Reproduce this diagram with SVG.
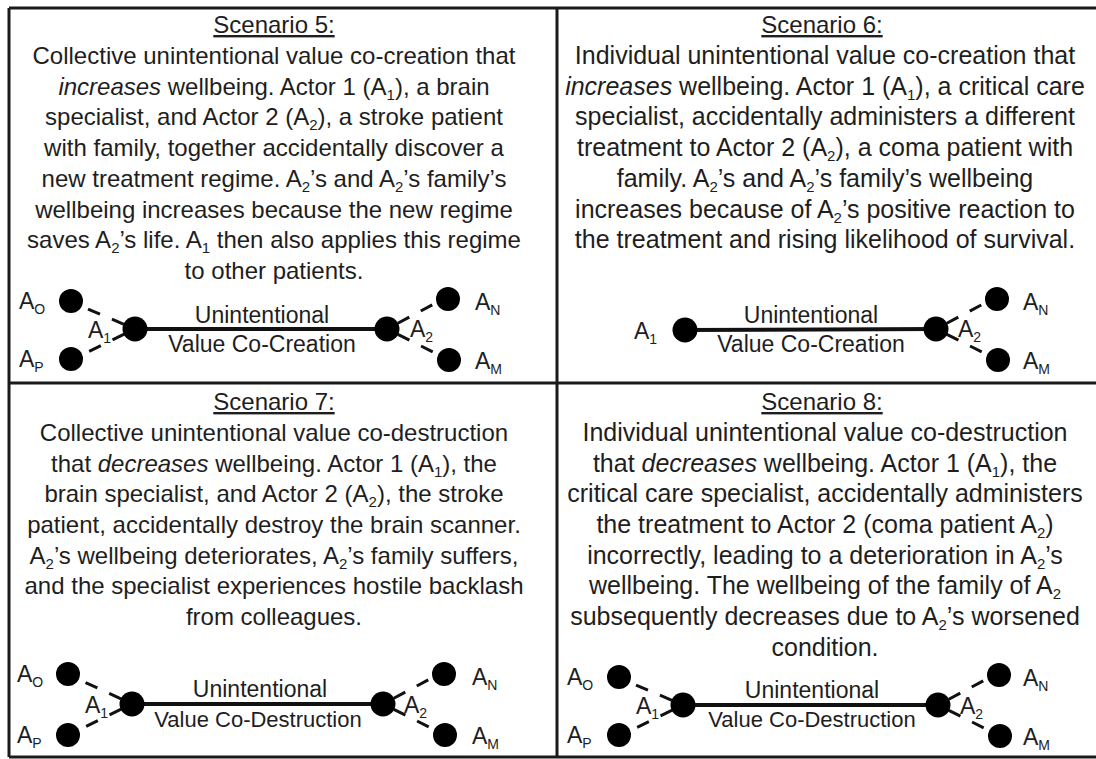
<svg xmlns="http://www.w3.org/2000/svg" width="1096" height="759" viewBox="0 0 1096 759">
<style>
.bg{fill:#ffffff}
.frame{stroke:#1a1a1a;stroke-width:3;fill:none}
.t{font-family:"Liberation Sans",Arial,sans-serif;font-size:24px;fill:#1e1e1e;text-anchor:middle}
.r{font-size:25px}
.ttl{text-decoration:underline}
.i{font-style:italic}
.sub{font-size:15px;baseline-shift:-5px}
.lbl{font-family:"Liberation Sans",Arial,sans-serif;font-size:23px;fill:#1e1e1e}
.ls{font-size:14px;baseline-shift:-5px}
.dot{fill:#000}
.main{stroke:#111;stroke-width:4}
.dash{stroke:#111;stroke-width:3;stroke-dasharray:13 13}
.cap{font-family:"Liberation Sans",Arial,sans-serif;font-size:23px;fill:#1e1e1e;text-anchor:middle}
</style>
<rect class="bg" x="0" y="0" width="1096" height="759"/>
<g id="frame">
<line class="frame" x1="9" y1="8" x2="1096" y2="8"/>
<line class="frame" x1="9" y1="383" x2="1096" y2="383"/>
<line class="frame" x1="9" y1="757" x2="1096" y2="757"/>
<line class="frame" x1="9" y1="8" x2="9" y2="757"/>
<line class="frame" x1="557" y1="8" x2="557" y2="757"/>
</g>

<g id="scenario5-text">
<text x="274" y="33" class="t ttl">Scenario 5:</text>
<text x="274" y="64" class="t">Collective unintentional value co-creation that</text>
<text x="274" y="95" class="t"><tspan class="i">increases</tspan> wellbeing. Actor 1 (A<tspan class="sub">1</tspan>), a brain</text>
<text x="274" y="125" class="t">specialist, and Actor 2 (A<tspan class="sub">2</tspan>), a stroke patient</text>
<text x="274" y="156" class="t">with family, together accidentally discover a</text>
<text x="274" y="187" class="t">new treatment regime. A<tspan class="sub">2</tspan>’s and A<tspan class="sub">2</tspan>’s family’s</text>
<text x="274" y="218" class="t">wellbeing increases because the new regime</text>
<text x="274" y="248" class="t">saves A<tspan class="sub">2</tspan>’s life. A<tspan class="sub">1</tspan> then also applies this regime</text>
<text x="274" y="279" class="t">to other patients.</text>
</g>

<g id="scenario6-text">
<text x="822" y="33" class="t ttl">Scenario 6:</text>
<text x="825" y="64" class="t r">Individual unintentional value co-creation that</text>
<text x="825" y="95" class="t r"><tspan class="i">increases</tspan> wellbeing. Actor 1 (A<tspan class="sub">1</tspan>), a critical care</text>
<text x="825" y="125" class="t r">specialist, accidentally administers a different</text>
<text x="825" y="156" class="t r">treatment to Actor 2 (A<tspan class="sub">2</tspan>), a coma patient with</text>
<text x="825" y="187" class="t r">family. A<tspan class="sub">2</tspan>’s and A<tspan class="sub">2</tspan>’s family’s wellbeing</text>
<text x="825" y="218" class="t r">increases because of A<tspan class="sub">2</tspan>’s positive reaction to</text>
<text x="825" y="248" class="t r">the treatment and rising likelihood of survival.</text>
</g>

<g id="scenario7-text">
<text x="274" y="410" class="t ttl">Scenario 7:</text>
<text x="274" y="441" class="t">Collective unintentional value co-destruction</text>
<text x="274" y="472" class="t">that <tspan class="i">decreases</tspan> wellbeing. Actor 1 (A<tspan class="sub">1</tspan>), the</text>
<text x="274" y="502" class="t">brain specialist, and Actor 2 (A<tspan class="sub">2</tspan>), the stroke</text>
<text x="274" y="533" class="t">patient, accidentally destroy the brain scanner.</text>
<text x="274" y="564" class="t">A<tspan class="sub">2</tspan>’s wellbeing deteriorates, A<tspan class="sub">2</tspan>’s family suffers,</text>
<text x="274" y="594" class="t">and the specialist experiences hostile backlash</text>
<text x="274" y="625" class="t">from colleagues.</text>
</g>

<g id="scenario8-text">
<text x="822" y="410" class="t ttl">Scenario 8:</text>
<text x="825" y="441" class="t r">Individual unintentional value co-destruction</text>
<text x="825" y="472" class="t r">that <tspan class="i">decreases</tspan> wellbeing. Actor 1 (A<tspan class="sub">1</tspan>), the</text>
<text x="825" y="502" class="t r">critical care specialist, accidentally administers</text>
<text x="825" y="533" class="t r">the treatment to Actor 2 (coma patient A<tspan class="sub">2</tspan>)</text>
<text x="825" y="564" class="t r">incorrectly, leading to a deterioration in A<tspan class="sub">2</tspan>’s</text>
<text x="825" y="594" class="t r">wellbeing. The wellbeing of the family of A<tspan class="sub">2</tspan></text>
<text x="825" y="625" class="t r">subsequently decreases due to A<tspan class="sub">2</tspan>’s worsened</text>
<text x="825" y="656" class="t r">condition.</text>
</g>

<g id="connectors">
<line class="main" x1="135" y1="329" x2="387" y2="329"/>
<line class="dash" x1="123.9" y1="324.3" x2="88.0" y2="309.0"/>
<line class="dash" x1="124.2" y1="334.2" x2="88.6" y2="351.6"/>
<line class="dash" x1="397.8" y1="323.2" x2="432.4" y2="304.8"/>
<line class="dash" x1="397.8" y1="334.4" x2="433.6" y2="352.3"/>
<line class="main" x1="685" y1="330" x2="936" y2="329"/>
<line class="dash" x1="946.8" y1="323.3" x2="981.4" y2="304.9"/>
<line class="dash" x1="946.8" y1="334.4" x2="982.6" y2="352.3"/>
<line class="main" x1="132" y1="704" x2="383" y2="704"/>
<line class="dash" x1="121.0" y1="698.8" x2="85.0" y2="682.3"/>
<line class="dash" x1="121.2" y1="709.2" x2="85.6" y2="726.6"/>
<line class="dash" x1="393.8" y1="698.2" x2="428.4" y2="679.8"/>
<line class="dash" x1="393.8" y1="709.4" x2="429.6" y2="727.3"/>
<line class="main" x1="683" y1="705" x2="938" y2="705"/>
<line class="dash" x1="671.9" y1="700.3" x2="636.0" y2="685.0"/>
<line class="dash" x1="672.2" y1="710.2" x2="636.6" y2="727.6"/>
<line class="dash" x1="948.8" y1="699.2" x2="983.4" y2="680.8"/>
<line class="dash" x1="948.8" y1="710.4" x2="984.6" y2="728.3"/>
</g>

<g id="s5-AO"><circle class="dot" cx="71" cy="301" r="12"/><text class="lbl" x="19" y="309">A<tspan class="ls">O</tspan></text></g>
<g id="s5-AP"><circle class="dot" cx="71" cy="359" r="12"/><text class="lbl" x="19" y="367">A<tspan class="ls">P</tspan></text></g>
<g id="s5-A1"><circle class="dot" cx="135" cy="329" r="12.5"/><text class="lbl" x="88" y="338">A<tspan class="ls">1</tspan></text></g>
<g id="s5-A2"><circle class="dot" cx="387" cy="329" r="12.5"/><text class="lbl" x="410" y="337">A<tspan class="ls">2</tspan></text></g>
<g id="s5-AN"><circle class="dot" cx="448" cy="299" r="12"/><text class="lbl" x="475" y="310">A<tspan class="ls">N</tspan></text></g>
<g id="s5-AM"><circle class="dot" cx="449" cy="360" r="12"/><text class="lbl" x="475" y="369">A<tspan class="ls">M</tspan></text></g>
<text class="cap" x="262" y="323">Unintentional</text>
<text class="cap" x="262" y="352">Value Co-Creation</text>

<g id="s6-A1"><circle class="dot" cx="685" cy="330" r="12.5"/><text class="lbl" x="634" y="339">A<tspan class="ls">1</tspan></text></g>
<g id="s6-A2"><circle class="dot" cx="936" cy="329" r="12.5"/><text class="lbl" x="958" y="337">A<tspan class="ls">2</tspan></text></g>
<g id="s6-AN"><circle class="dot" cx="997" cy="299" r="12"/><text class="lbl" x="1023" y="310">A<tspan class="ls">N</tspan></text></g>
<g id="s6-AM"><circle class="dot" cx="998" cy="360" r="12"/><text class="lbl" x="1023" y="369">A<tspan class="ls">M</tspan></text></g>
<text class="cap" x="811" y="323">Unintentional</text>
<text class="cap" x="811" y="352">Value Co-Creation</text>

<g id="s7-AO"><circle class="dot" cx="68" cy="674" r="12"/><text class="lbl" x="17" y="682">A<tspan class="ls">O</tspan></text></g>
<g id="s7-AP"><circle class="dot" cx="68" cy="735" r="12"/><text class="lbl" x="17" y="743">A<tspan class="ls">P</tspan></text></g>
<g id="s7-A1"><circle class="dot" cx="132" cy="704" r="12.5"/><text class="lbl" x="85" y="713">A<tspan class="ls">1</tspan></text></g>
<g id="s7-A2"><circle class="dot" cx="383" cy="704" r="12.5"/><text class="lbl" x="404" y="713">A<tspan class="ls">2</tspan></text></g>
<g id="s7-AN"><circle class="dot" cx="444" cy="674" r="12"/><text class="lbl" x="472" y="685">A<tspan class="ls">N</tspan></text></g>
<g id="s7-AM"><circle class="dot" cx="445" cy="735" r="12"/><text class="lbl" x="472" y="744">A<tspan class="ls">M</tspan></text></g>
<text class="cap" x="260" y="697">Unintentional</text>
<text class="cap" x="258" y="727" style="font-size:22px">Value Co-Destruction</text>

<g id="s8-AO"><circle class="dot" cx="619" cy="677" r="12"/><text class="lbl" x="567" y="685">A<tspan class="ls">O</tspan></text></g>
<g id="s8-AP"><circle class="dot" cx="619" cy="735" r="12"/><text class="lbl" x="567" y="743">A<tspan class="ls">P</tspan></text></g>
<g id="s8-A1"><circle class="dot" cx="683" cy="705" r="12.5"/><text class="lbl" x="636" y="714">A<tspan class="ls">1</tspan></text></g>
<g id="s8-A2"><circle class="dot" cx="938" cy="705" r="12.5"/><text class="lbl" x="960" y="714">A<tspan class="ls">2</tspan></text></g>
<g id="s8-AN"><circle class="dot" cx="999" cy="675" r="12"/><text class="lbl" x="1023" y="686">A<tspan class="ls">N</tspan></text></g>
<g id="s8-AM"><circle class="dot" cx="1000" cy="736" r="12"/><text class="lbl" x="1023" y="745">A<tspan class="ls">M</tspan></text></g>
<text class="cap" x="812" y="698">Unintentional</text>
<text class="cap" x="812" y="727" style="font-size:22px">Value Co-Destruction</text>
</svg>
